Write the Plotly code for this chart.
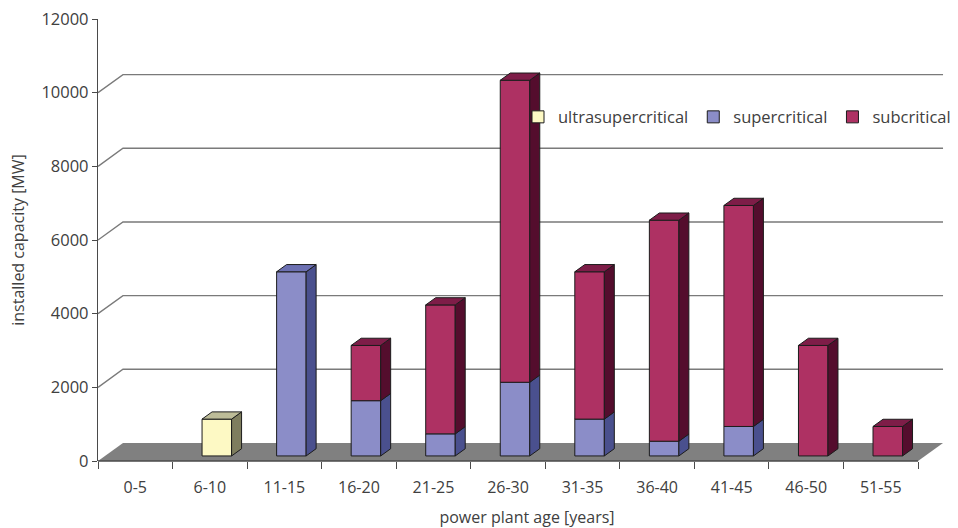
import plotly.graph_objects as go

# Installed coal capacity by power plant age and steam technology
age_groups = ["0-5", "6-10", "11-15", "16-20", "21-25", "26-30",
              "31-35", "36-40", "41-45", "46-50", "51-55"]
ultrasupercritical = [0, 1000, 0, 0, 0, 0, 0, 0, 0, 0, 0]
supercritical = [0, 0, 5000, 1500, 600, 2000, 1000, 400, 800, 0, 0]
subcritical = [0, 0, 0, 1500, 3500, 8200, 4000, 6000, 6000, 3000, 800]

y_ticks = [0, 2000, 4000, 6000, 8000, 10000, 12000]

# series: (name, values, front colour, side colour, top colour)
series = [
    ("ultrasupercritical", ultrasupercritical, "#FDF9C4", "#7E7D5E", "#BDBC98"),
    ("supercritical", supercritical, "#8B8DC8", "#4A508E", "#6C70B2"),
    ("subcritical", subcritical, "#AE3163", "#540D2D", "#7E1D48"),
]

# pseudo-3D geometry (x in category units, y in MW)
N = len(age_groups)
DX, DY = 0.335, 490          # depth of the floor / back wall
F = 0.28                     # depth position of the bar front faces
BW = 0.396                   # bar width
BDX, BDY = 0.4 * DX, 0.4 * DY  # bar depth
PAD_R = 0.174                # free room right of the back wall
EDGE = "#1c1c1c"

fig = go.Figure()

centers = [i + 0.5 + F * DX for i in range(N)]
base_off = F * DY
cum = [0.0] * N
tops = [None] * N  # (top value, top colour) of each stack

side_traces = []
for name, vals, c_front, c_side, c_top in series:
    bases = [base_off + c for c in cum]
    ys = [v if v > 0 else None for v in vals]
    fig.add_trace(go.Bar(
        x=centers, y=ys, base=bases, width=BW, name=name,
        marker=dict(color=c_front, line=dict(color=EDGE, width=1)),
        hoverinfo="skip",
    ))
    sx, sy = [], []
    for i, v in enumerate(vals):
        if v <= 0:
            continue
        b = bases[i]
        t = b + v
        xr = centers[i] + BW / 2
        sx += [xr, xr + BDX, xr + BDX, xr, xr, None]
        sy += [b, b + BDY, t + BDY, t, b, None]
        tops[i] = (t, c_top)
    side_traces.append((sx, sy, c_side))
    cum = [c + v for c, v in zip(cum, vals)]

for sx, sy, c_side in side_traces:
    if sx:
        fig.add_trace(go.Scatter(
            x=sx, y=sy, mode="lines", fill="toself", fillcolor=c_side,
            line=dict(color=EDGE, width=1), showlegend=False, hoverinfo="skip",
        ))

# top faces of each stack
for i, tp in enumerate(tops):
    if tp is None:
        continue
    t, c_top = tp
    xl = centers[i] - BW / 2
    xr = centers[i] + BW / 2
    fig.add_trace(go.Scatter(
        x=[xl, xl + BDX, xr + BDX, xr, xl],
        y=[t, t + BDY, t + BDY, t, t],
        mode="lines", fill="toself", fillcolor=c_top,
        line=dict(color=EDGE, width=1), showlegend=False, hoverinfo="skip",
    ))

shapes = []
# floor
shapes.append(dict(
    type="path", xref="x", yref="y", layer="below",
    path=f"M0,0 L{N},0 L{N + DX},{DY} L{DX},{DY} Z",
    fillcolor="#808080", line=dict(width=0),
))
# back-wall gridlines with their side-wall diagonals
for v in y_ticks[1:-1]:
    shapes.append(dict(
        type="path", xref="x", yref="y", layer="below",
        path=f"M0,{v} L{DX},{v + DY} L{N + DX},{v + DY}",
        line=dict(color="#7a7a7a", width=1.4),
    ))
# category axis line
shapes.append(dict(
    type="line", xref="x", yref="paper", x0=0, x1=N, y0=0, y1=0,
    line=dict(color="#4a4a4a", width=1.3),
))

font_family = "Open Sans, sans-serif"
text_col = "#404040"

fig.update_layout(
    width=958, height=528,
    margin=dict(l=98, r=2, t=19, b=67),
    paper_bgcolor="white", plot_bgcolor="white",
    barmode="overlay",
    shapes=shapes,
    font=dict(family=font_family, color=text_col),
    showlegend=True,
    legend=dict(
        orientation="h", x=1.0, y=0.778, xanchor="right", yanchor="middle",
        font=dict(size=16.5, color=text_col), bgcolor="rgba(0,0,0,0)",
        itemwidth=30, traceorder="normal",
    ),
    xaxis=dict(
        range=[0, N + DX + PAD_R], showgrid=False, zeroline=False, showline=False,
        tickmode="array", tickvals=[i + 0.5 for i in range(N)], ticktext=age_groups,
        ticks="", tickfont=dict(size=16, color=text_col), ticklabelstandoff=15,
        minor=dict(tickmode="array", tickvals=list(range(N + 1)), ticks="outside",
                   ticklen=7, tickcolor="#4a4a4a", tickwidth=1.3, showgrid=False),
        title=dict(text="power plant age [years]", font=dict(size=16, color=text_col),
                   standoff=16),
        automargin=False, fixedrange=True,
    ),
    yaxis=dict(
        range=[0, 12000], showgrid=False, zeroline=False, showline=True,
        linecolor="#4a4a4a", linewidth=1.3,
        tickmode="array", tickvals=y_ticks, ticktext=[str(v) for v in y_ticks],
        ticks="outside", ticklen=5, tickcolor="#4a4a4a", tickwidth=1.3,
        tickfont=dict(size=16.5, color=text_col),
        title=dict(text="installed capacity [MW]", font=dict(size=16, color=text_col),
                   standoff=12),
        automargin=False, fixedrange=True,
    ),
)

fig.write_html("out.html")
